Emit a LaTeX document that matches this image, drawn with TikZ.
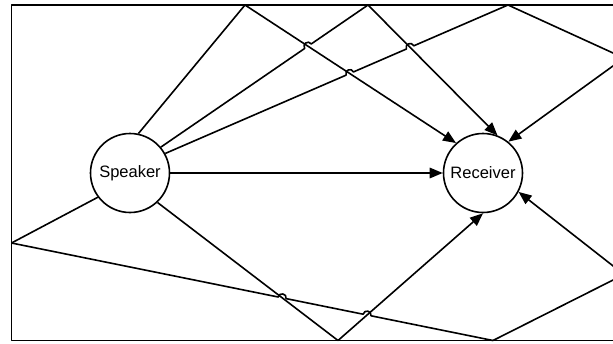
\documentclass[tikz,border=0pt]{standalone}
\usepackage{fontspec}
\setmainfont{Liberation Sans}
\usetikzlibrary{arrows.meta,calc,intersections}

% Coordinates for a small line hop at crossing #2 on a line running from #3 to #4
\newcommand\hopcoords[4]{%
  \coordinate (#1a) at ($(#2)!4pt!(#3)$);
  \coordinate (#1b) at ($(#2)!4pt!(#4)$);
  \coordinate (#1c) at ($(#1a)!5.2pt!90:(#2)$);
  \coordinate (#1d) at ($(#1b)!5.2pt!-90:(#2)$);
}

\begin{document}
\begin{tikzpicture}[x=1pt,y=-1pt,
  wire/.style={line width=1.6pt, line join=round},
  arr/.style={wire,-{Triangle[length=13pt,width=10.5pt]}},
  party/.style={circle,draw,line width=1.6pt,minimum size=79pt,inner sep=0pt,
    fill=white,font=\fontsize{16.5}{19}\selectfont},
]
\useasboundingbox (0,0) rectangle (613,343);
\fill[white] (0,0) rectangle (613,343);
\clip (0,0) rectangle (613,343);

% room walls
\draw[wire] (11.5,5) rectangle (624,340.5);

% speaker and receiver
\node[party] (S) at (130,173) {Speaker};
\node[party] (R) at (483,173) {Receiver};

% reflection points on the walls
\coordinate (T1) at (245,5);
\coordinate (T2) at (368,5);
\coordinate (T3) at (508,5);
\coordinate (E1) at (624,58);
\coordinate (E2) at (624,274.5);
\coordinate (W1) at (11.5,243);
\coordinate (B1) at (338,340.5);
\coordinate (B2) at (493,340.5);

% direct path
\draw[arr] (S) -- (R);

% reflected paths without hops
\draw[wire] (S.78) -- (T1);
\draw[arr,name path=a2] (T1) -- (R.132);
\draw[arr,name path=b2] (T2) -- (R.69);
\draw[wire] (T3) -- (E1);
\draw[arr] (E1) -- (R.51);
\draw[wire] (B2) -- (E2);
\draw[arr] (E2) -- (R.332);
\draw[wire,name path=d1] (S.313) -- (B1);
\draw[arr,name path=d2] (B1) -- (R.270);
\draw[wire] (S.217) -- (W1);

% paths that hop over the crossings
\path[name path=b1] (S.40) -- (T2);
\path[name path=c1] (S.29) -- (T3);
\path[name path=l1] (W1) -- (B2);
\path[name intersections={of=b1 and a2, by=x1}];
\path[name intersections={of=c1 and a2, by=x2}];
\path[name intersections={of=c1 and b2, by=x3}];
\path[name intersections={of=l1 and d1, by=x4}];
\path[name intersections={of=l1 and d2, by=x5}];
\hopcoords{h1}{x1}{S.40}{T2}
\hopcoords{h2}{x2}{S.29}{T3}
\hopcoords{h3}{x3}{S.29}{T3}
\hopcoords{h4}{x4}{W1}{B2}
\hopcoords{h5}{x5}{W1}{B2}

\draw[wire] (S.40) -- (h1a) .. controls (h1c) and (h1d) .. (h1b) -- (T2);
\draw[wire] (S.29) -- (h2a) .. controls (h2c) and (h2d) .. (h2b)
  -- (h3a) .. controls (h3c) and (h3d) .. (h3b) -- (T3);
\draw[wire] (W1) -- (h4a) .. controls (h4c) and (h4d) .. (h4b)
  -- (h5a) .. controls (h5c) and (h5d) .. (h5b) -- (B2);
\end{tikzpicture}
\end{document}
